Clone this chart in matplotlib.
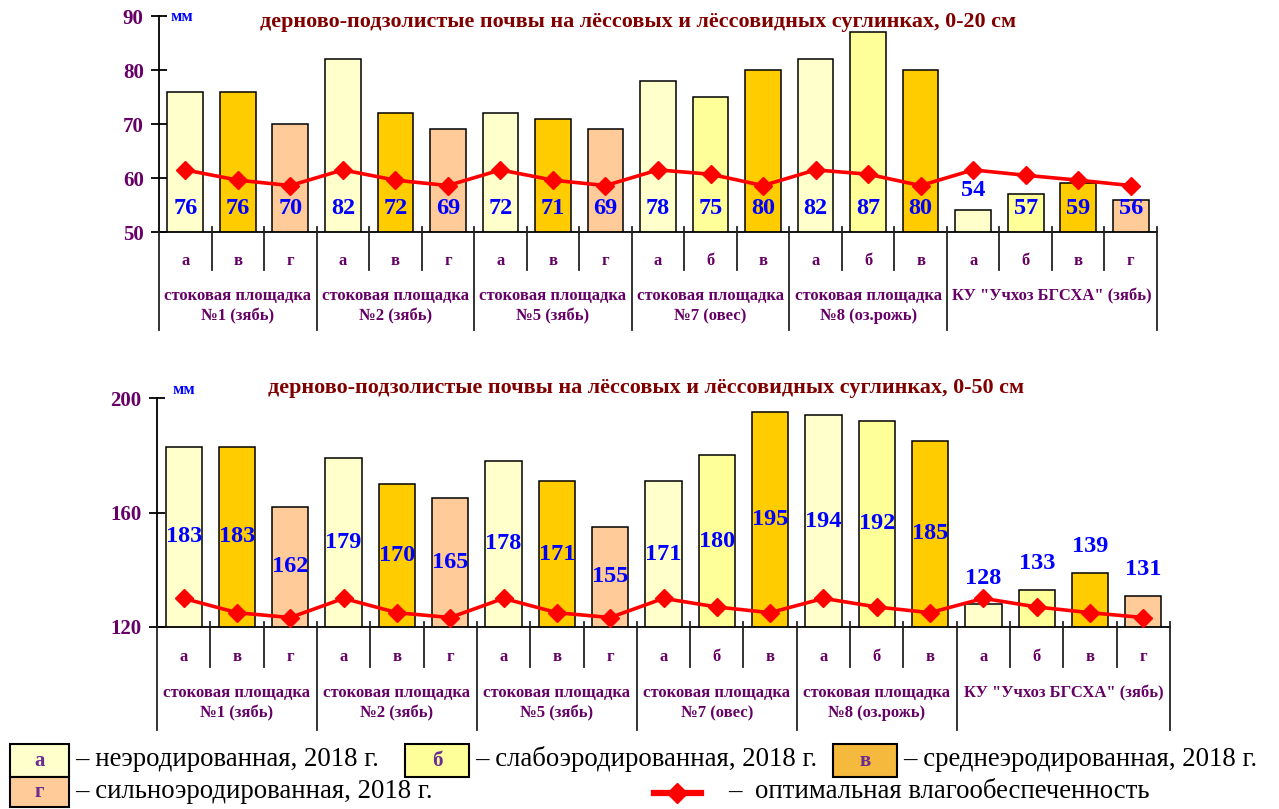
import matplotlib
matplotlib.use("Agg")
import matplotlib.pyplot as plt
from matplotlib import transforms
from matplotlib.patches import Rectangle
from matplotlib.lines import Line2D

plt.rcParams["font.family"] = ["Liberation Serif", "DejaVu Serif"]

W, H = 1279, 809

# ---- data -------------------------------------------------------------
categories = ["а", "в", "г", "а", "в", "г", "а", "в", "г",
              "а", "б", "в", "а", "б", "в", "а", "б", "в", "г"]
groups = ["стоковая площадка\n№1 (зябь)", "стоковая площадка\n№2 (зябь)",
          "стоковая площадка\n№5 (зябь)", "стоковая площадка\n№7 (овес)",
          "стоковая площадка\n№8 (оз.рожь)", "КУ \"Учхоз БГСХА\" (зябь)"]
group_sizes = [3, 3, 3, 3, 3, 4]

moisture_0_20 = [76, 76, 70, 82, 72, 69, 72, 71, 69, 78, 75, 80, 82, 87, 80, 54, 57, 59, 56]
optimum_0_20 = [61.5, 59.6, 58.6, 61.5, 59.6, 58.6, 61.5, 59.6, 58.6,
                61.5, 60.7, 58.6, 61.5, 60.7, 58.6, 61.5, 60.5, 59.6, 58.6]

moisture_0_50 = [183, 183, 162, 179, 170, 165, 178, 171, 155, 171, 180, 195, 194, 192, 185,
                 128, 133, 139, 131]
optimum_0_50 = [130, 125, 123.3, 130, 125, 123.3, 130, 125, 123.3,
                130, 127, 125, 130, 127, 125, 130, 127, 125, 123.3]

titles = ["дерново-подзолистые почвы на лёссовых и лёссовидных суглинках, 0-20 см",
          "дерново-подзолистые почвы на лёссовых и лёссовидных суглинках, 0-50 см"]

bar_colors = {"а": "#FFFFCC", "б": "#FFFF99", "в": "#FFCC00", "г": "#FFCC99"}
legend_box_colors = {"а": "#FFFFCC", "б": "#FFFF99", "в": "#F5B93D", "г": "#FFCC99"}
legend_texts = {"а": "– неэродированная, 2018 г.", "б": "– слабоэродированная, 2018 г.",
                "в": "– среднеэродированная, 2018 г.", "г": "– сильноэродированная, 2018 г."}

PURPLE = "#660066"
DARKRED = "#800000"
BLUE = "#0000FF"

fig = plt.figure(figsize=(W / 100, H / 100), dpi=100)


def fx(x):
    return x / W


def fy(y):
    return 1 - y / H


def panel(left, right, top, bottom, values, optimum, ylim, yticks, mode, title,
          title_xy, mm_xy, letter_dy, group_dy, sep_small, sep_group):
    ax = fig.add_axes([fx(left), fy(bottom), fx(right - left), (bottom - top) / H])
    n = len(values)
    xs = list(range(n))
    colors = [bar_colors[c] for c in categories]
    ax.bar(xs, values, width=0.68, color=colors, edgecolor="black", linewidth=1.1, zorder=2)
    ax.plot(xs, optimum, color="#FF0000", lw=2.6, marker="D", ms=9,
            markeredgecolor="#FF0000", zorder=4)
    ax.set_xlim(-0.5, n - 0.5)
    ax.set_ylim(*ylim)
    ax.set_yticks(yticks)
    ax.set_xticks([])
    ax.tick_params(axis="y", direction="inout", length=12, width=1.3, pad=5,
                   labelsize=15, labelcolor=PURPLE)
    for lab in ax.get_yticklabels():
        lab.set_fontweight("bold")
    for s in ("top", "right"):
        ax.spines[s].set_visible(False)
    ax.spines["left"].set_linewidth(1.3)
    ax.spines["bottom"].set_linewidth(1.3)
    ax.patch.set_alpha(0)

    trans = ax.get_xaxis_transform()

    def off(dy):
        return transforms.offset_copy(trans, fig=fig, x=0, y=-dy, units="dots")

    label_kw = dict(ha="center", va="center", color=BLUE, fontsize=17.5,
                    fontweight="bold", zorder=5)
    # value labels
    for x, v in zip(xs, values):
        if mode == "base":
            if v - ylim[0] < 5:
                t = transforms.offset_copy(ax.transData, fig=fig, y=20, units="dots")
                ax.text(x, v, str(v), transform=t, **label_kw)
            else:
                ax.text(x, 0, str(v), transform=off(-24), **label_kw)
        else:
            if v - ylim[0] < 20:
                t = transforms.offset_copy(ax.transData, fig=fig, y=26, units="dots")
                ax.text(x, v, str(v), transform=t, **label_kw)
            else:
                ax.text(x, (v + ylim[0]) / 2, str(v), **label_kw)

    # category letters and separators
    for x, c in enumerate(categories):
        ax.text(x, 0, c, transform=off(letter_dy), ha="center", va="center",
                color=PURPLE, fontsize=12, fontweight="bold")
    bounds = [-0.5]
    for g in group_sizes:
        bounds.append(bounds[-1] + g)
    group_bounds = set(bounds)
    h_px = bottom - top
    for b in [x - 0.5 for x in range(n + 1)]:
        depth = sep_group if b in group_bounds else sep_small
        top_px = 5 if b != -0.5 else 0
        ax.plot([b, b], [top_px / h_px, -depth / h_px], transform=trans,
                color="#222222", lw=1.3, clip_on=False, zorder=3)
    for i, g in enumerate(groups):
        cx = (bounds[i] + bounds[i + 1]) / 2
        ax.text(cx, 0, g, transform=off(group_dy), ha="center", va="top",
                color=PURPLE, fontsize=12, fontweight="bold", linespacing=1.35)

    fig.text(fx(title_xy[0]), fy(title_xy[1]), title, ha="center", va="center",
             color=DARKRED, fontsize=15.9, fontweight="bold")
    fig.text(fx(mm_xy[0]), fy(mm_xy[1]), "мм", ha="center", va="center",
             color=BLUE, fontsize=12, fontweight="bold")
    return ax


panel(159, 1157, 16, 232, moisture_0_20, optimum_0_20, (50, 90), [50, 60, 70, 80, 90],
      "base", titles[0], (638, 22), (182, 17), 29, 56, 38, 98)
panel(157, 1170, 398, 627, moisture_0_50, optimum_0_50, (120, 200), [120, 160, 200],
      "center", titles[1], (646, 388), (184, 390), 30, 58, 40, 103)

# ---- legend -----------------------------------------------------------
def legend_box(key, x0, x1, y0, y1, tx, ty):
    fig.add_artist(Rectangle((fx(x0), fy(y1)), fx(x1 - x0), (y1 - y0) / H,
                             transform=fig.transFigure, facecolor=legend_box_colors[key],
                             edgecolor="black", linewidth=1.5))
    fig.text(fx((x0 + x1) / 2), fy((y0 + y1) / 2), key, ha="center", va="center",
             color="#6A2C91", fontsize=15, fontweight="bold")
    fig.text(fx(tx), fy(ty), legend_texts[key], ha="left", va="center",
             color="black", fontsize=19.3)


legend_box("а", 10, 69, 744, 777, 75, 759)
legend_box("б", 405, 469, 744, 777, 475, 759)
legend_box("в", 833, 897, 744, 777, 903, 759)
legend_box("г", 10, 69, 777, 807, 75, 792)

fig.add_artist(Line2D([fx(654), fx(701)], [fy(793), fy(793)], transform=fig.transFigure,
                      color="#FF0000", lw=4.5))
fig.add_artist(Line2D([fx(677.5)], [fy(793)], transform=fig.transFigure, color="#FF0000",
                      marker="D", ms=10, lw=0))
fig.text(fx(728), fy(792), "–  оптимальная влагообеспеченность", ha="left", va="center",
         color="black", fontsize=19.3)

fig.savefig("out.png", dpi=100)
